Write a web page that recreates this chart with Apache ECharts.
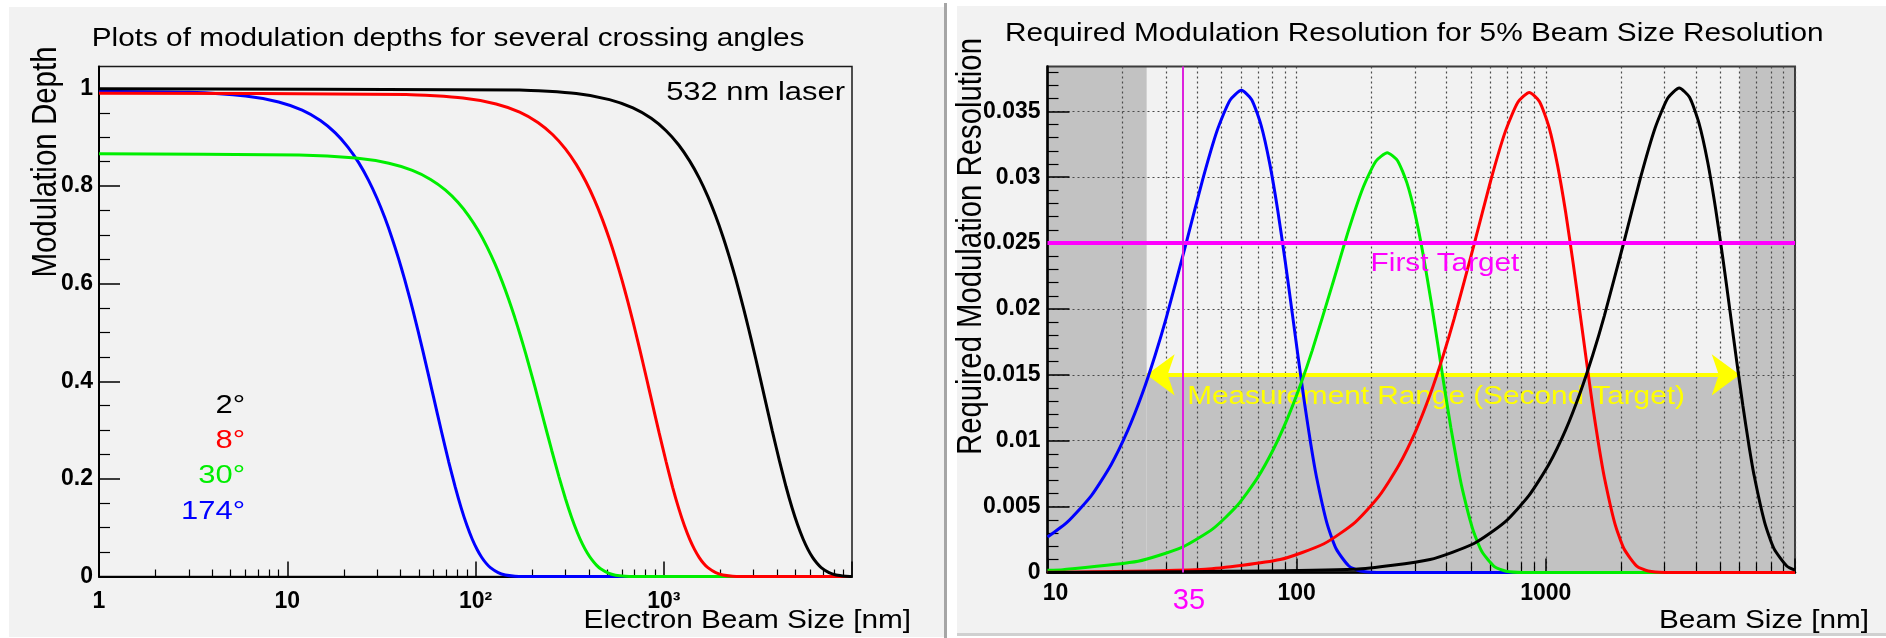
<!DOCTYPE html>
<html><head><meta charset="utf-8">
<script src="https://cdn.jsdelivr.net/npm/echarts@6/dist/echarts.min.js"></script>
<style>html,body{margin:0;padding:0;background:#fff}#c{width:1886px;height:638px}</style>
</head><body><div id="c"></div>
<script>
// ---------- Left panel: modulation depth vs electron beam size (532 nm laser) ----------
const depthX_2deg = [1, 171.6, 343.1, 514.7, 686.2, 857.8, 1029, 1201, 1372, 1544, 1716, 1887, 2059, 2230, 2402, 2573, 2745, 2916, 3088, 3259, 3431, 3774, 4117, 4460, 4803, 5147, 5490, 5833, 6176, 6519, 6862, 7548, 8234, 9264, 10000];
const depthY_2deg = [0.9994, 0.9969, 0.9895, 0.9772, 0.9602, 0.9388, 0.9134, 0.8842, 0.8516, 0.8162, 0.7783, 0.7385, 0.6973, 0.6550, 0.6123, 0.5694, 0.5270, 0.4852, 0.4446, 0.4053, 0.3677, 0.2980, 0.2368, 0.1844, 0.1408, 0.1053, 0.0773, 0.0556, 0.0391, 0.0270, 0.0183, 0.0079, 0.0032, 0.0007, 0.0002];
const depthX_8deg = [1, 42.9, 85.8, 128.7, 171.6, 214.5, 257.4, 300.3, 343.2, 386.1, 429, 471.9, 514.8, 557.7, 600.6, 643.5, 686.4, 729.3, 772.2, 815.1, 858, 943.8, 1030, 1115, 1201, 1287, 1373, 1459, 1544, 1630, 1716, 1888, 2059, 2317, 2574, 10000];
const depthY_8deg = [0.9903, 0.9878, 0.9805, 0.9683, 0.9515, 0.9303, 0.9051, 0.8761, 0.8439, 0.8088, 0.7713, 0.7318, 0.6909, 0.6490, 0.6067, 0.5643, 0.5222, 0.4808, 0.4405, 0.4016, 0.3643, 0.2953, 0.2346, 0.1827, 0.1395, 0.1044, 0.0766, 0.0550, 0.0388, 0.0268, 0.0181, 0.0078, 0.0031, 0.0007, 0.0001, 0];
const depthX_30deg = [1, 11.55, 23.1, 34.65, 46.2, 57.75, 69.3, 80.85, 92.4, 103.95, 115.5, 127.05, 138.6, 150.15, 161.7, 173.25, 184.8, 196.35, 207.9, 219.45, 231, 254.1, 277.2, 300.3, 323.4, 346.5, 369.6, 392.7, 415.8, 438.9, 462, 508.2, 554.4, 623.7, 693, 10000];
const depthY_30deg = [0.8660, 0.8638, 0.8574, 0.8467, 0.8320, 0.8135, 0.7915, 0.7662, 0.7380, 0.7073, 0.6744, 0.6399, 0.6042, 0.5676, 0.5305, 0.4934, 0.4566, 0.4205, 0.3853, 0.3512, 0.3186, 0.2582, 0.2052, 0.1598, 0.1220, 0.0913, 0.0669, 0.0481, 0.0339, 0.0234, 0.0159, 0.0069, 0.0027, 0.0006, 0.0001, 0];
const depthX_174deg = [1, 3, 6, 9, 12, 15, 18, 21, 24, 27, 30, 33, 36, 39, 42, 45, 48, 51, 54, 57, 60, 66, 72, 78, 84, 90, 96, 102, 108, 114, 120, 132, 144, 162, 180, 10000];
const depthY_174deg = [0.9942, 0.9920, 0.9846, 0.9724, 0.9555, 0.9342, 0.9089, 0.8798, 0.8475, 0.8122, 0.7745, 0.7349, 0.6938, 0.6518, 0.6093, 0.5667, 0.5244, 0.4829, 0.4424, 0.4033, 0.3659, 0.2966, 0.2356, 0.1835, 0.1401, 0.1048, 0.0769, 0.0553, 0.0389, 0.0269, 0.0182, 0.0079, 0.0031, 0.0007, 0.0001, 0];
const depthXTickValues = [1, 10, 100, 1000];
const depthXTickLabels = ['1', '10', '10\u00B2', '10\u00B3'];
const depthYTickValues = [0, 0.2, 0.4, 0.6, 0.8, 1];
const depthYTickLabels = ['0', '0.2', '0.4', '0.6', '0.8', '1'];
const angleLabels = ['2\u00B0', '8\u00B0', '30\u00B0', '174\u00B0'];

// ---------- Right panel: required modulation resolution ----------
const resX_2deg = [10, 171.6, 343.1, 514.7, 686.2, 857.8, 1029, 1201, 1372, 1544, 1716, 2059, 2402, 2745, 3088, 3431, 3774, 4117, 4460, 4803, 5147, 5490, 5833, 6176, 6519, 6862, 7548, 8234, 9264, 10000];
const resY_2deg = [0.000001, 0.000249, 0.000989, 0.00220, 0.00384, 0.00587, 0.00822, 0.01083, 0.01363, 0.01653, 0.01946, 0.02510, 0.03000, 0.03373, 0.03601, 0.03677, 0.03606, 0.03410, 0.03117, 0.02759, 0.02370, 0.01978, 0.01605, 0.01268, 0.00976, 0.00732, 0.00383, 0.00181, 0.000496, 0.000173];
const resX_8deg = [10, 42.9, 85.8, 128.7, 171.6, 214.5, 257.4, 300.3, 343.2, 386.1, 429, 514.8, 600.6, 686.4, 772.2, 858, 943.8, 1030, 1115, 1201, 1287, 1373, 1459, 1544, 1630, 1716, 1888, 2059, 2317, 2574, 3003, 10000];
const resY_8deg = [0.0000134, 0.000247, 0.000980, 0.00218, 0.00381, 0.00581, 0.00815, 0.01073, 0.01350, 0.01638, 0.01928, 0.02487, 0.02973, 0.03342, 0.03568, 0.03643, 0.03573, 0.03379, 0.03088, 0.02734, 0.02348, 0.01960, 0.01591, 0.01256, 0.00967, 0.00725, 0.00379, 0.00180, 0.000491, 0.000110, 0.000006, 0];
const resX_30deg = [10, 11.55, 23.1, 34.65, 46.2, 57.75, 69.3, 80.85, 92.4, 103.95, 115.5, 138.6, 161.7, 184.8, 207.9, 231, 254.1, 277.2, 300.3, 323.4, 346.5, 369.6, 392.7, 415.8, 438.9, 462, 508.2, 554.4, 623.7, 693, 808.5, 10000];
const resY_30deg = [0.000162, 0.000216, 0.000857, 0.00191, 0.00333, 0.00508, 0.00712, 0.00939, 0.01181, 0.01432, 0.01686, 0.02175, 0.02600, 0.02922, 0.03121, 0.03186, 0.03125, 0.02955, 0.02701, 0.02391, 0.02054, 0.01714, 0.01391, 0.01099, 0.00846, 0.00634, 0.00332, 0.00157, 0.000430, 0.0000961, 0.0000053, 0];
const resX_174deg = [10, 12, 15, 18, 21, 24, 27, 30, 36, 42, 48, 54, 60, 66, 72, 78, 84, 90, 96, 102, 108, 114, 120, 132, 144, 162, 180, 210, 10000];
const resY_174deg = [0.002687, 0.003822, 0.005839, 0.00818, 0.01078, 0.01356, 0.01645, 0.01936, 0.02498, 0.02985, 0.03356, 0.03584, 0.03659, 0.03588, 0.03393, 0.03101, 0.02746, 0.02358, 0.01968, 0.01597, 0.01262, 0.00971, 0.00729, 0.00381, 0.00180, 0.000493, 0.000110, 0.0000061, 0];
const resXTickValues = [10, 100, 1000];
const resXTickLabels = ['10', '100', '1000'];
const resYTickValues = [0, 0.005, 0.01, 0.015, 0.02, 0.025, 0.03, 0.035];
const resYTickLabels = ['0', '0.005', '0.01', '0.015', '0.02', '0.025', '0.03', '0.035'];
const firstTarget = 0.025;          // required modulation resolution
const firstTargetSize = 35;         // nm
const rangeLow = 25, rangeHigh = 6000, rangeLevel = 0.015;   // measurement range (second target)

// ---------- drawing ----------
const FONT = '"Liberation Sans", Arial, Helvetica, sans-serif';
const pair = (xs, ys) => xs.map((x, i) => [x, ys[i]]);
const pick = (vals, labels) => v => { for (let i = 0; i < vals.length; i++) if (Math.abs(vals[i] - v) < 1e-9 * Math.max(1, vals[i])) return labels[i]; return ''; };
const tickFont = { color: '#000', fontFamily: FONT, fontWeight: 'bold', fontSize: 23 };
const dotted = { color: '#4a4a4a', width: 1.2, type: [2, 3] };
const COLORS = { c2: '#000000', c8: '#ff0000', c30: '#00ee00', c174: '#0000ff' };

function txt(text, x, y, o) {
  o = o || {};
  return {
    type: 'text', x: x, y: y, rotation: o.rot || 0,
    scaleX: o.sx == null ? 1.19 : o.sx, scaleY: o.sy == null ? 1 : o.sy,
    z: o.z == null ? 6 : o.z, silent: true,
    style: {
      text: text, fill: o.color || '#000',
      font: (o.weight || 'normal') + ' ' + (o.size || 25) + 'px ' + FONT,
      align: o.align || 'left', textAlign: o.align || 'left',
      verticalAlign: 'middle', textVerticalAlign: 'middle'
    }
  };
}

function curve(xs, ys, color, xi) {
  return {
    type: 'line', xAxisIndex: xi, yAxisIndex: xi, data: pair(xs, ys),
    showSymbol: false, symbol: 'none', smooth: 0.2, silent: true, z: 2,
    lineStyle: { color: color, width: 3 }, emphasis: { disabled: true }
  };
}

const option = {
  animation: false,
  backgroundColor: '#ffffff',
  graphic: { elements: [
    { type: 'rect', shape: { x: 9, y: 7, width: 935, height: 630 }, style: { fill: '#f2f2f2' }, z: -10, silent: true },
    { type: 'rect', shape: { x: 957, y: 6, width: 929, height: 627 }, style: { fill: '#f2f2f2' }, z: -10, silent: true },
    { type: 'rect', shape: { x: 944, y: 3, width: 3, height: 635 }, style: { fill: '#a6a6a6' }, z: -10, silent: true },
    { type: 'rect', shape: { x: 957, y: 633, width: 929, height: 3 }, style: { fill: '#d0d0d0' }, z: -10, silent: true },
    txt('Plots of modulation depths for several crossing angles', 91.7, 39.5),
    txt('Required Modulation Resolution for 5% Beam Size Resolution', 1005, 34.5),
    txt('Modulation Depth', 46.5, 162, { rot: Math.PI / 2, sx: 1, sy: 1.2, size: 29.5, align: 'center' }),
    txt('Required Modulation Resolution', 971.5, 246.5, { rot: Math.PI / 2, sx: 1, sy: 1.2, size: 29.3, align: 'center' }),
    txt('Electron Beam Size [nm]', 911, 621, { align: 'right' }),
    txt('Beam Size [nm]', 1869, 621, { align: 'right' }),
    txt('532 nm laser', 845, 92.5, { align: 'right', size: 26 }),
    txt(angleLabels[0], 245, 405.5, { align: 'right', size: 26, color: COLORS.c2 }),
    txt(angleLabels[1], 245, 440.5, { align: 'right', size: 26, color: COLORS.c8 }),
    txt(angleLabels[2], 245, 476, { align: 'right', size: 26, color: COLORS.c30 }),
    txt(angleLabels[3], 245, 511.7, { align: 'right', size: 26, color: COLORS.c174 }),
    txt('First Target', 1445, 264, { align: 'center', color: '#ff00ff', z: 6 }),
    txt('Measurement Range (Second Target)', 1436, 397, { align: 'center', color: '#ffff00', size: 25, z: 1.9 }),
    txt(String(firstTargetSize), 1189, 601, { align: 'center', color: '#ff00ff', size: 29, sx: 1 })
  ]},
  grid: [
    { left: 99, top: 66.5, width: 753, height: 510, show: true, borderColor: '#1a1a1a', borderWidth: 1.5, backgroundColor: 'transparent', z: 1.5, containLabel: false, outerBoundsMode: 'none' },
    { left: 1047.5, top: 66.5, width: 747.5, height: 506, show: true, borderColor: '#3c3c3c', borderWidth: 2, backgroundColor: 'transparent', z: 1.5, containLabel: false, outerBoundsMode: 'none' }
  ],
  xAxis: [
    { gridIndex: 0, type: 'log', logBase: 10, min: 1, max: 10000, z: 1.5,
      axisLine: { show: true, onZero: false, lineStyle: { color: '#000', width: 2 } },
      axisTick: { show: true, inside: true, length: 15, lineStyle: { color: '#000', width: 1.5 } },
      minorTick: { show: true, splitNumber: 9, length: 7, lineStyle: { color: '#000', width: 1.2 } },
      axisLabel: Object.assign({ margin: 14, formatter: pick(depthXTickValues, depthXTickLabels) }, tickFont),
      splitLine: { show: false }, minorSplitLine: { show: false } },
    { gridIndex: 1, type: 'log', logBase: 10, min: 10, max: 10000, z: 1.5,
      axisLine: { show: true, onZero: false, lineStyle: { color: '#000', width: 2.5 } },
      axisTick: { show: true, inside: true, length: 14, lineStyle: { color: '#000', width: 1.5 } },
      minorTick: { show: true, splitNumber: 9, length: 10, lineStyle: { color: '#000', width: 1.2 } },
      axisLabel: Object.assign({ margin: 10,
        formatter: v => { const s = pick(resXTickValues, resXTickLabels)(v); return s === '10' ? '{s|10}' : s; },
        rich: { s: Object.assign({ padding: [0, 0, 0, 16] }, tickFont) } }, tickFont),
      splitLine: { show: true, lineStyle: dotted }, minorSplitLine: { show: true, lineStyle: dotted } }
  ],
  yAxis: [
    { gridIndex: 0, type: 'value', min: 0, max: 1.045, interval: 0.2, z: 1.5,
      axisLine: { show: true, onZero: false, lineStyle: { color: '#000', width: 2 } },
      axisTick: { show: true, inside: true, length: 21, customValues: depthYTickValues, lineStyle: { color: '#000', width: 1.5 } },
      minorTick: { show: true, splitNumber: 4, length: 11, lineStyle: { color: '#000', width: 1.2 } },
      axisLabel: Object.assign({ margin: 6, customValues: depthYTickValues, formatter: pick(depthYTickValues, depthYTickLabels) }, tickFont),
      splitLine: { show: false } },
    { gridIndex: 1, type: 'value', min: 0, max: 0.0384, interval: 0.005, z: 1.5,
      axisLine: { show: true, onZero: false, lineStyle: { color: '#000', width: 2.5 } },
      axisTick: { show: true, inside: true, length: 22, customValues: resYTickValues, lineStyle: { color: '#000', width: 1.5 } },
      minorTick: { show: true, splitNumber: 5, length: 11, lineStyle: { color: '#000', width: 1.2 } },
      axisLabel: Object.assign({ margin: 7, customValues: resYTickValues, formatter: pick(resYTickValues, resYTickLabels) }, tickFont),
      splitLine: { show: true, lineStyle: dotted } }
  ],
  series: [
    curve(depthX_174deg, depthY_174deg, COLORS.c174, 0),
    curve(depthX_30deg, depthY_30deg, COLORS.c30, 0),
    curve(depthX_8deg, depthY_8deg, COLORS.c8, 0),
    curve(depthX_2deg, depthY_2deg, COLORS.c2, 0),
    { type: 'line', xAxisIndex: 1, yAxisIndex: 1, data: [], silent: true,
      markArea: { silent: true, z: 1, label: { show: false }, itemStyle: { color: '#c2c2c2' }, emphasis: { disabled: true },
        data: [
          [{ xAxis: 10 }, { xAxis: rangeLow }],
          [{ xAxis: rangeHigh }, { xAxis: 10000 }],
          [{ xAxis: rangeLow, yAxis: 0 }, { xAxis: rangeHigh, yAxis: rangeLevel }]
        ] } },
    { type: 'line', xAxisIndex: 1, yAxisIndex: 1, data: [], silent: true,
      markLine: { silent: true, z: 1.8, precision: 6, symbol: ['arrow', 'arrow'], symbolSize: [31, 28], label: { show: false }, emphasis: { disabled: true },
        lineStyle: { color: '#ffff00', width: 4, type: 'solid' },
        data: [[{ coord: [rangeLow, rangeLevel] }, { coord: [rangeHigh, rangeLevel] }]] } },
    curve(resX_174deg, resY_174deg, COLORS.c174, 1),
    curve(resX_30deg, resY_30deg, COLORS.c30, 1),
    curve(resX_8deg, resY_8deg, COLORS.c8, 1),
    curve(resX_2deg, resY_2deg, COLORS.c2, 1),
    { type: 'line', xAxisIndex: 1, yAxisIndex: 1, data: [], silent: true,
      markLine: { silent: true, z: 6, precision: 6, symbol: 'none', label: { show: false }, emphasis: { disabled: true },
        lineStyle: { color: '#ff00ff', type: 'solid' },
        data: [
          { yAxis: firstTarget, lineStyle: { width: 4, color: '#ff00ff' } },
          { xAxis: firstTargetSize, lineStyle: { width: 2, color: '#dd22dd' } }
        ] } }
  ]
};

const chart = echarts.init(document.getElementById('c'), null, { renderer: 'canvas', width: 1886, height: 638 });
chart.setOption(option);
</script>
</body></html>
